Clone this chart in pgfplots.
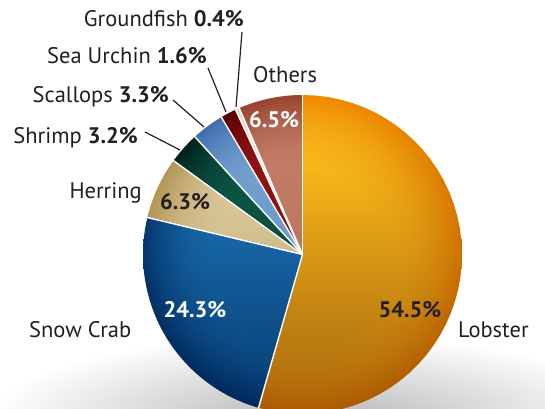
\documentclass[border=0pt]{standalone}
\usepackage{pgfplots}
\pgfplotsset{compat=1.18}
\usepackage{fontspec}
\setmainfont{PT Sans}
\definecolor{txt}{HTML}{231F20}
% slice colours: top, bottom, rim top, rim bottom
\definecolor{lobT}{HTML}{F7B619}\definecolor{lobB}{HTML}{B97A10}\definecolor{lobRT}{HTML}{F08A00}\definecolor{lobRB}{HTML}{AA5A00}
\definecolor{crbT}{HTML}{1766A5}\definecolor{crbB}{HTML}{0B4B85}\definecolor{crbRT}{HTML}{063A70}\definecolor{crbRB}{HTML}{00285A}
\definecolor{herT}{HTML}{D8C698}\definecolor{herB}{HTML}{D0BC8A}\definecolor{herR}{HTML}{B49656}
\definecolor{shrT}{HTML}{0B5444}\definecolor{shrB}{HTML}{0A4C3C}\definecolor{shrR}{HTML}{00221A}
\definecolor{scaT}{HTML}{72A0CE}\definecolor{scaB}{HTML}{6A98C8}\definecolor{scaR}{HTML}{3F6FAE}
\definecolor{urcT}{HTML}{901212}\definecolor{urcB}{HTML}{8A0E0E}\definecolor{urcR}{HTML}{5C0000}
\definecolor{grdT}{HTML}{F0E8E2}\definecolor{grdB}{HTML}{EAE0D8}\definecolor{grdR}{HTML}{E0D4CA}
\definecolor{othT}{HTML}{C27C66}\definecolor{othB}{HTML}{BC7660}\definecolor{othR}{HTML}{984430}

% shares in percent (start, end as cumulative sums of the values)
% Lobster 54.5, Snow Crab 24.3, Herring 6.3, Shrimp 3.2, Scallops 3.3, Sea Urchin 1.6, Groundfish 0.4, Others 6.5
\newcommand\slice[6]{%
  \pgfmathsetmacro\aS{#1/100.1*360}%
  \pgfmathsetmacro\aE{#2/100.1*360}%
  \pgfplotsforeachungrouped \k in {0,...,20}{%
    \pgfmathsetmacro\rr{159.5*(1-0.45*\k/20)}%
    \pgfmathsetmacro\pp{100*(1-\k/20)*(1-\k/20)}%
    \edef\doit{\noexpand\addplot[draw=none, top color=#5!\pp!#3, bottom color=#6!\pp!#4, domain=\aS:\aE, samples=45] ({302.5+\rr*sin(x)},{153.5+\rr*cos(x)}) -- (302.5,153.5) -- cycle;}%
    \doit
  }%
}
\newcommand\sep[1]{%
  \pgfmathsetmacro\aS{#1/100.1*360}%
  \edef\doit{\noexpand\addplot[white, line width=1.4pt, domain=0:160, samples=2] ({302.5+x*sin(\aS)},{153.5+x*cos(\aS)});}%
  \doit
}

\begin{document}
\begin{tikzpicture}[lbl/.style={font=\fontsize{22.5}{27}\selectfont, text=txt, inner sep=0pt}]
\begin{axis}[
  scale only axis, width=545pt, height=408pt,
  xmin=0, xmax=545, ymin=0, ymax=408,
  hide axis, clip=true,
]
% soft shadow
\addplot[draw=none, shading=radial, inner color=black!30, outer color=white, domain=0:360, samples=90]
  ({315+330*cos(x)},{-14+88*sin(x)}) -- cycle;

\slice{0}{54.5}{lobT}{lobB}{lobRT}{lobRB}
\slice{54.5}{78.8}{crbT}{crbB}{crbRT}{crbRB}
\slice{78.8}{85.1}{herT}{herB}{herR}{herR}
\slice{85.1}{88.3}{shrT}{shrB}{shrR}{shrR}
\slice{88.3}{91.6}{scaT}{scaB}{scaR}{scaR}
\slice{91.6}{93.2}{urcT}{urcB}{urcR}{urcR}
\slice{93.2}{93.6}{grdT}{grdB}{grdR}{grdR}
\slice{93.6}{100.1}{othT}{othB}{othR}{othR}

\sep{0}\sep{54.5}\sep{78.8}\sep{85.1}\sep{88.3}\sep{91.6}\sep{93.2}\sep{93.6}

% leader lines
\addplot[txt, line width=1.2pt] coordinates {(242,376) (236,301)};
\addplot[txt, line width=1.2pt] coordinates {(208,340) (226,296)};
\addplot[txt, line width=1.2pt] coordinates {(173,308) (204,281)};
\addplot[txt, line width=1.2pt] coordinates {(145,276) (180,258)};

% labels
\node[lbl, anchor=base east] at (244,381) {Groundfish \textbf{0.4\%}};
\node[lbl, anchor=base east] at (207,344) {Sea Urchin \textbf{1.6\%}};
\node[lbl, anchor=base east] at (169,305) {Scallops \textbf{3.3\%}};
\node[lbl, anchor=base east] at (138,265) {Shrimp \textbf{3.2\%}};
\node[lbl, anchor=base east] at (142,210) {Herring};
\node[lbl, anchor=base west] at (253,325) {Others};
\node[lbl, anchor=base west] at (29,71) {Snow Crab};
\node[lbl, anchor=base west] at (458,71) {Lobster};

\node[lbl, text=white, font=\fontsize{22.5}{27}\selectfont\bfseries] at (274,288) {6.5\%};
\node[lbl, font=\fontsize{22.5}{27}\selectfont\bfseries] at (185,206) {6.3\%};
\node[lbl, text=white, font=\fontsize{22.5}{27}\selectfont\bfseries] at (195,98) {24.3\%};
\node[lbl, font=\fontsize{22.5}{27}\selectfont\bfseries] at (410,98) {54.5\%};
\end{axis}
\pgfresetboundingbox
\path (0,0) rectangle (545pt,408pt);
\end{tikzpicture}
\end{document}
